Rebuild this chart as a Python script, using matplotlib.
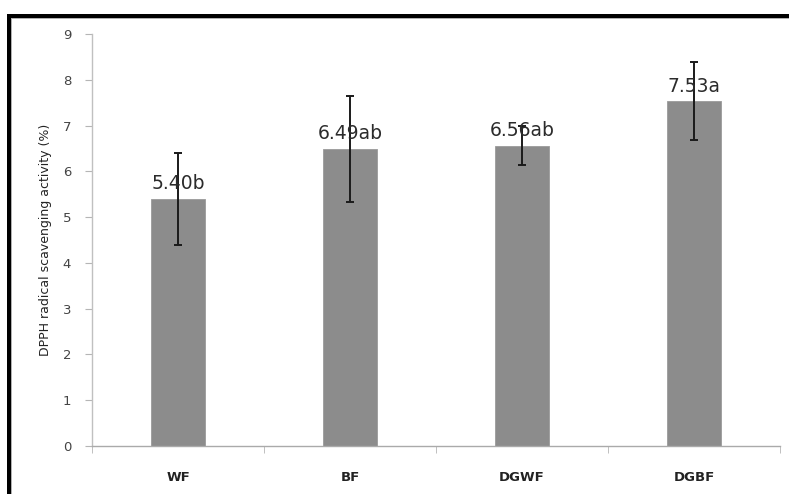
import numpy as np
import matplotlib
matplotlib.use('Agg')
import matplotlib.pyplot as plt
from matplotlib.patches import Rectangle

samples = ['WF', 'BF', 'DGWF', 'DGBF']
dpph_mean = [5.40, 6.49, 6.56, 7.53]
dpph_err = [1.00, 1.16, 0.42, 0.85]
letters = ['b', 'ab', 'ab', 'a']

W, H = 789, 494
fig = plt.figure(figsize=(W / 100, H / 100), dpi=100)
fig.patch.set_facecolor('white')

ax = fig.add_axes([92 / W, 1 - 446 / H, (780 - 92) / W, (446 - 34) / H])

x = np.arange(len(samples))
ax.bar(x, dpph_mean, width=0.31, color='#8c8c8c', edgecolor='#9a9a9a', linewidth=0.6, zorder=2)
ax.errorbar(x, dpph_mean, yerr=dpph_err, fmt='none', ecolor='#1a1a1a',
            elinewidth=1.4, capsize=3, capthick=1.4, zorder=3)

# value + significance letter just above each bar
for xi, m, let in zip(x, dpph_mean, letters):
    ax.annotate('%.2f%s' % (m, let), (xi, m), xytext=(0, 7), textcoords='offset points',
                ha='center', va='baseline', fontsize=13.5, color='#2b2b2b', zorder=4)

ax.set_xlim(-0.5, len(samples) - 0.5)
ax.set_ylim(0, 9)
ax.set_yticks(range(0, 10))

ax.set_xticks(x)
ax.set_xticklabels(samples, fontweight='bold', fontsize=9.5, color='#222222')
ax.set_xticks(np.arange(-0.5, len(samples)), minor=True)
ax.tick_params(axis='x', which='major', length=0, pad=18)
ax.tick_params(axis='x', which='minor', length=5, color='#b5b5b5', direction='out')
ax.tick_params(axis='y', length=5, color='#b5b5b5', labelsize=9.5, labelcolor='#444444', pad=10)

for side in ['top', 'right']:
    ax.spines[side].set_visible(False)
ax.spines['left'].set_color('#c0c0c0')
ax.spines['bottom'].set_color('#aaaaaa')
ax.spines['left'].set_linewidth(1.0)
ax.spines['bottom'].set_linewidth(1.0)

ax.set_ylabel('DPPH radical scavenging activity (%)',
              family=['Liberation Sans Narrow', 'DejaVu Sans'],
              fontsize=9, color='#222222', labelpad=8)

# heavy frame along the top and left edges
fig.patches.append(Rectangle((7 / W, 0), 4 / W, 1 - 14 / H, transform=fig.transFigure,
                             facecolor='black', edgecolor='none'))
fig.patches.append(Rectangle((7 / W, 1 - 18 / H), 1 - 7 / W, 4 / H, transform=fig.transFigure,
                             facecolor='black', edgecolor='none'))
fig.patches.append(Rectangle((11 / W, 0), 1.2 / W, 1 - 18 / H, transform=fig.transFigure,
                             facecolor='#b0b0b0', edgecolor='none'))
fig.patches.append(Rectangle((11 / W, 1 - 19.2 / H), 1 - 11 / W, 1.2 / H, transform=fig.transFigure,
                             facecolor='#b0b0b0', edgecolor='none'))

fig.savefig('out.png', dpi=100)
